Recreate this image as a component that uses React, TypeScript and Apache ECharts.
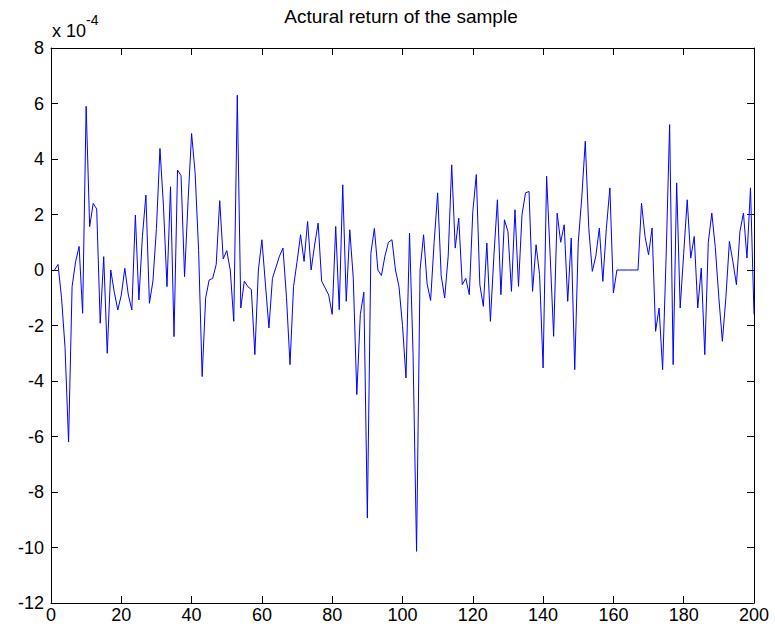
import React, { useEffect, useRef } from "react";
import * as echarts from "echarts";

const TITLE = "Actural return of the sample";
const SCALE_BASE = "x 10";
const SCALE_EXP = "-4";

// Sample returns, in units of 1e-4, for sample index 1..200
const returnsE4 = [
  0.0, 0.2, -1.0, -2.8, -6.2, -0.6, 0.3, 0.85, -1.56, 5.9,
  1.56, 2.4, 2.2, -1.92, 0.48, -3.0, 0.0, -0.8, -1.44, -0.9,
  0.06, -0.9, -1.44, 1.98, -1.08, 1.2, 2.7, -1.2, -0.4, 1.5,
  4.38, 2.3, -0.6, 3.0, -2.4, 3.6, 3.4, -0.24, 2.5, 4.92,
  3.5, 0.7, -3.84, -1.0, -0.36, -0.3, 0.2, 2.5, 0.4, 0.7,
  0.0, -1.85, 6.3, -1.37, -0.4, -0.6, -0.7, -3.05, 0.0, 1.09,
  -0.5, -2.09, -0.3, 0.1, 0.5, 0.79, -1.0, -3.41, -0.6, 0.3,
  1.27, 0.31, 1.75, 0.0, 0.9, 1.69, -0.4, -0.65, -0.9, -1.6,
  1.57, -1.43, 3.07, -1.13, 1.45, -0.3, -4.49, -1.6, -0.8, -8.94,
  0.6, 1.5, 0.0, -0.2, 0.5, 1.0, 1.09, 0.0, -0.6, -2.0,
  -3.89, 1.33, -3.0, -10.14, 0.0, 1.27, -0.5, -1.1, 1.0, 2.78,
  -0.2, -1.01, 0.5, 3.79, 0.79, 1.87, -0.53, -0.3, -0.89, 2.1,
  3.44, -0.53, -1.31, 0.97, -1.85, 0.5, 2.53, -0.89, 1.81, 1.39,
  -0.77, 2.17, -0.59, 1.99, 2.78, 2.83, -0.77, 0.91, -0.17, -3.53,
  3.38, 0.55, -2.39, 2.05, 1.0, 1.63, -1.13, 1.15, -3.59, 1.0,
  2.6, 4.64, 1.5, -0.05, 0.5, 1.51, -0.41, 1.5, 2.96, -0.83,
  0.0, 0.0, 0.0, 0.0, 0.0, 0.0, 0.0, 2.41, 1.2, 0.55,
  1.51, -2.21, -1.37, -3.59, 0.5, 5.24, -3.41, 3.14, -1.37, 0.6,
  2.53, 0.43, 1.21, -1.37, 0.07, -3.05, 1.0, 2.05, 0.8, -1.0,
  -2.57, -1.0, 1.03, 0.3, -0.53, 1.39, 2.05, 0.43, 2.96, -1.6,
];

const X_MIN = 0;
const X_MAX = 200;
const X_STEP = 20;
const Y_MIN = -12;
const Y_MAX = 8;
const Y_STEP = 2;

const FONT = "'Liberation Sans', Arial, Helvetica, sans-serif";

export default function App() {
  const ref = useRef<HTMLDivElement>(null);

  useEffect(() => {
    if (!ref.current) return;
    const chart = echarts.init(ref.current, undefined, { renderer: "svg" });

    const axisLine = { show: true, lineStyle: { color: "#000", width: 1 } };
    const tick = { show: true, inside: true, length: 7, lineStyle: { color: "#000", width: 1 } };
    const label = { color: "#000", fontSize: 18, fontFamily: FONT };

    chart.setOption({
      animation: false,
      backgroundColor: "#fff",
      grid: { left: 51, top: 48, right: 21, bottom: 34, containLabel: false },
      xAxis: [
        {
          type: "value", min: X_MIN, max: X_MAX, interval: X_STEP,
          position: "bottom",
          axisLine: { ...axisLine, onZero: false },
          axisTick: tick,
          axisLabel: { ...label, margin: 3 },
          splitLine: { show: false },
        },
        {
          type: "value", min: X_MIN, max: X_MAX, interval: X_STEP,
          position: "top",
          axisLine: { ...axisLine, onZero: false },
          axisTick: tick,
          axisLabel: { show: false },
          splitLine: { show: false },
        },
      ],
      yAxis: [
        {
          type: "value", min: Y_MIN, max: Y_MAX, interval: Y_STEP,
          position: "left",
          axisLine: { ...axisLine, onZero: false },
          axisTick: tick,
          axisLabel: { ...label, margin: 7 },
          splitLine: { show: false },
        },
        {
          type: "value", min: Y_MIN, max: Y_MAX, interval: Y_STEP,
          position: "right",
          axisLine: { ...axisLine, onZero: false },
          axisTick: tick,
          axisLabel: { show: false },
          splitLine: { show: false },
        },
      ],
      graphic: [
        {
          type: "text", x: 401, y: 16,
          style: { text: TITLE, fill: "#000", font: `19px ${FONT}`, textAlign: "center", textVerticalAlign: "middle" },
        },
        {
          type: "text", x: 52, y: 31,
          style: { text: SCALE_BASE, fill: "#000", font: `18px ${FONT}`, textAlign: "left", textVerticalAlign: "middle" },
        },
        {
          type: "text", x: 86, y: 20,
          style: { text: SCALE_EXP, fill: "#000", font: `14px ${FONT}`, textAlign: "left", textVerticalAlign: "middle" },
        },
      ],
      series: [
        {
          type: "line",
          xAxisIndex: 0,
          yAxisIndex: 0,
          data: returnsE4.map((v, i) => [i + 1, v]),
          showSymbol: false,
          symbol: "none",
          lineStyle: { color: "#0000ff", width: 1 },
          itemStyle: { color: "#0000ff" },
        },
      ],
    });

    return () => chart.dispose();
  }, []);

  return (
    <div
      ref={ref}
      style={{ position: "fixed", left: 0, top: 0, width: 775, height: 637, background: "#fff" }}
    />
  );
}
